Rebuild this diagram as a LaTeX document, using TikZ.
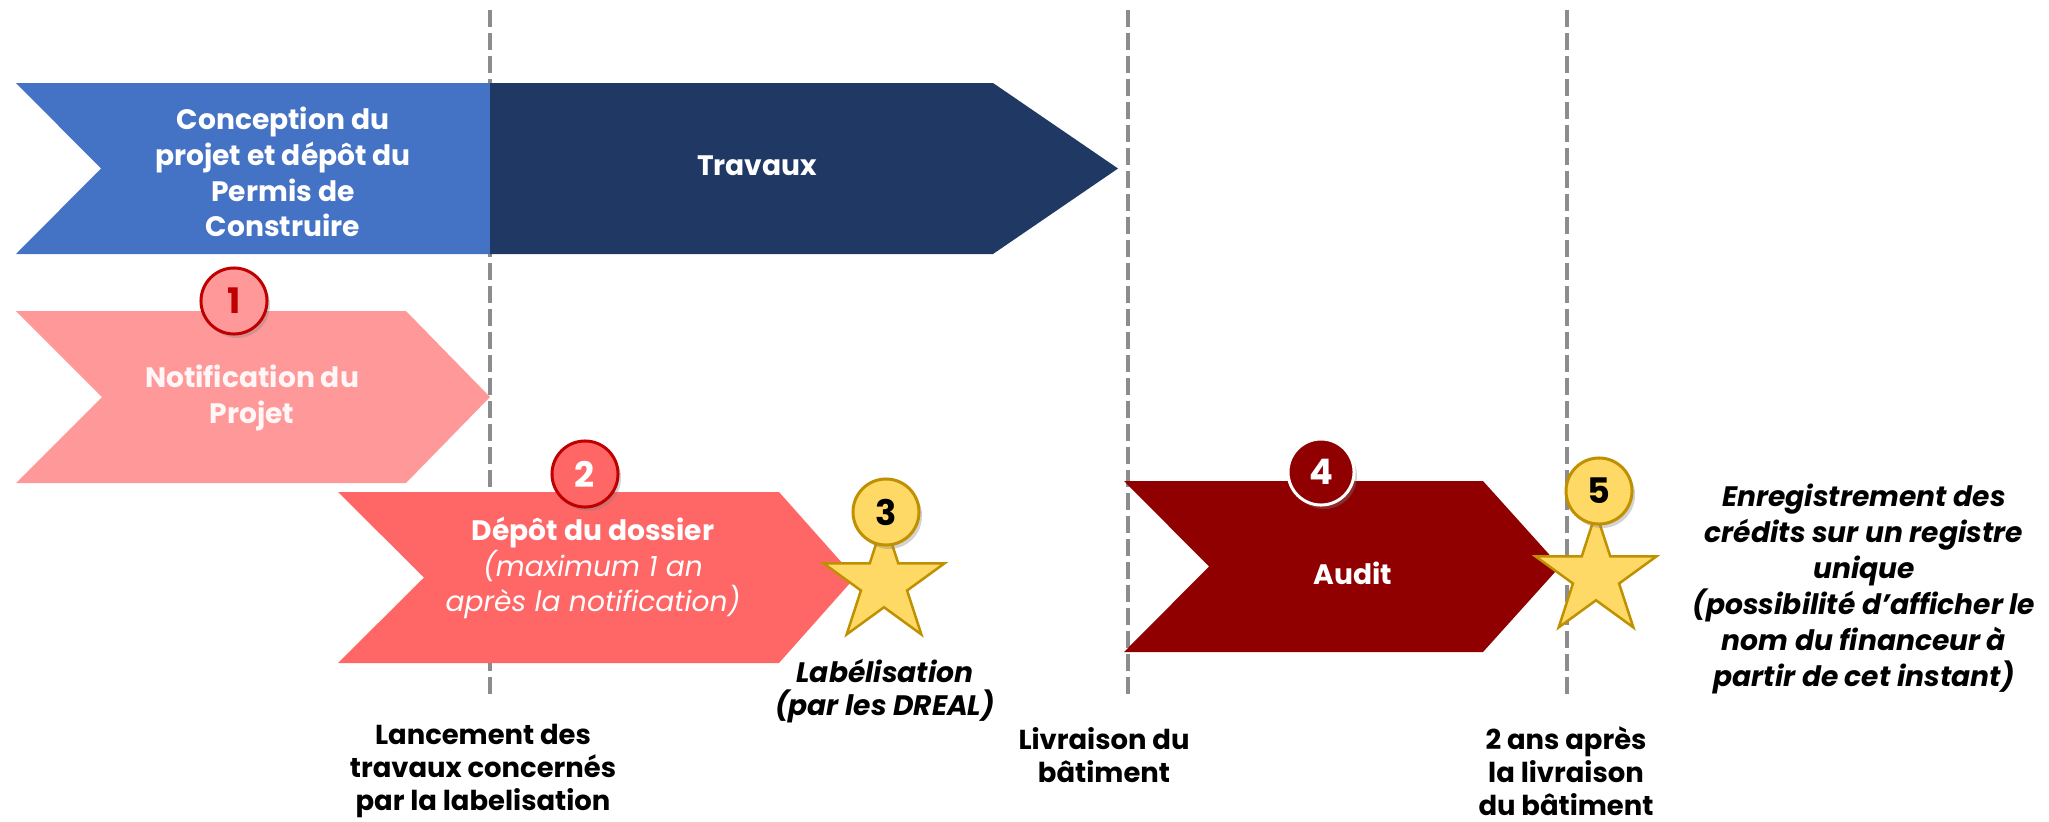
\documentclass[tikz,border=0pt]{standalone}
\usepackage{fontspec}
\setmainfont{Poppins}
\usepackage{tikz}
\usetikzlibrary{shapes.geometric, shadows}
\definecolor{bleu}{HTML}{4472C4}
\definecolor{marine}{HTML}{203864}
\definecolor{rose}{HTML}{FF9999}
\definecolor{saumon}{HTML}{FF6666}
\definecolor{bordeaux}{HTML}{900000}
\definecolor{rouge}{HTML}{C00000}
\definecolor{jaune}{HTML}{FFD966}
\definecolor{jaunefonce}{HTML}{BF9000}
\definecolor{gris}{HTML}{8C8C8C}
\tikzstyle{jalon} = [draw=gris, line width=0.04cm, dash pattern=on 0.17cm off 0.06cm]
\tikzstyle{etape} = [text=white, font=\bfseries\fontsize{8}{10.2}\selectfont, align=center]
\tikzstyle{pastille} = [circle, minimum size=0.66cm, inner sep=0pt, line width=0.03cm, font=\bfseries\fontsize{10}{12}\selectfont, drop shadow={opacity=0.35, shadow xshift=0.03cm, shadow yshift=-0.04cm}]
\tikzstyle{etoile} = [star, star points=5, star point ratio=2.618, minimum size=1.27cm, inner sep=0pt, fill=jaune, draw=jaunefonce, line width=0.025cm]
\tikzstyle{legende} = [font=\bfseries\fontsize{7.8}{9.3}\selectfont, align=center, inner sep=1pt]

\begin{document}
\begin{tikzpicture}[x=0.01cm, y=-0.01cm]
\useasboundingbox (0,0) rectangle (2049,821);

% jalons en pointilles
\coordinate (lancH) at (490,10);  \coordinate (lancB) at (490,700);
\coordinate (livH) at (1128,10);  \coordinate (livB) at (1128,700);
\coordinate (deuxH) at (1567,10); \coordinate (deuxB) at (1567,700);
\draw [jalon] (lancH) -- (lancB);
\draw [jalon] (livH) -- (livB);
\draw [jalon] (deuxH) -- (deuxB);

% fleches
\fill [bleu] (16,83) -- (490,83) -- (490,254) -- (16,254) -- (101,168.5) -- cycle;
\fill [marine] (490,83) -- (993,83) -- (1118,168.5) -- (993,254) -- (490,254) -- cycle;
\fill [rose] (16,311) -- (406,311) -- (490,397) -- (406,483) -- (16,483) -- (102,397) -- cycle;
\fill [saumon] (338,492) -- (779,492) -- (855,577.5) -- (779,663) -- (338,663) -- (424,577.5) -- cycle;
\fill [bordeaux] (1124,481) -- (1483,481) -- (1560,566.5) -- (1483,652) -- (1124,652) -- (1209,566.5) -- cycle;

\node (conception) [etape] at (283,172) {Conception du\\projet et dépôt du\\Permis de\\Construire};
\node (travaux) [etape] at (757,166) {Travaux};
\node (notif) [etape, text=white!92!rose] at (252,398) {Notification du\\Projet};
\node (depot) [etape] at (593,568) {Dépôt du dossier\\{\mdseries\itshape (maximum 1 an}\\{\mdseries\itshape après la notification)}};
\node (audit) [etape] at (1353,573) {Audit};

% etoiles et pastilles
\node (etoile3) [etoile] at (884,583) {};
\node (etoile5) [etoile] at (1596,576) {};
\node (p1) [pastille, fill=rose, draw=rouge, text=rouge] at (234,301) {1};
\node (p2) [pastille, fill=saumon, draw=rouge, text=white] at (585,474) {2};
\node (p3) [pastille, fill=jaune, draw=jaunefonce, text=black] at (886,512) {3};
\node (p4) [pastille, fill=bordeaux, draw=white, text=white] at (1321,472) {4};
\node (p5) [pastille, fill=jaune, draw=jaunefonce, text=black] at (1599,491) {5};

% legendes
\node (label) [legende, font=\bfseries\itshape\fontsize{8}{9.6}\selectfont] at (885,691) {Labélisation\\(par les DREAL)};
\node (registre) [legende, font=\bfseries\itshape\fontsize{8}{10.2}\selectfont] at (1864,589) {Enregistrement des\\crédits sur un registre\\unique\\(possibilité d’afficher le\\nom du financeur à\\partir de cet instant)};
\node (lancement) [legende] at (483,771) {Lancement des\\travaux concernés\\par la labelisation};
\node (livraison) [legende] at (1104,755) {Livraison du\\bâtiment};
\node (deuxans) [legende] at (1566,771) {2 ans après\\la livraison\\du bâtiment};
\end{tikzpicture}
\end{document}
